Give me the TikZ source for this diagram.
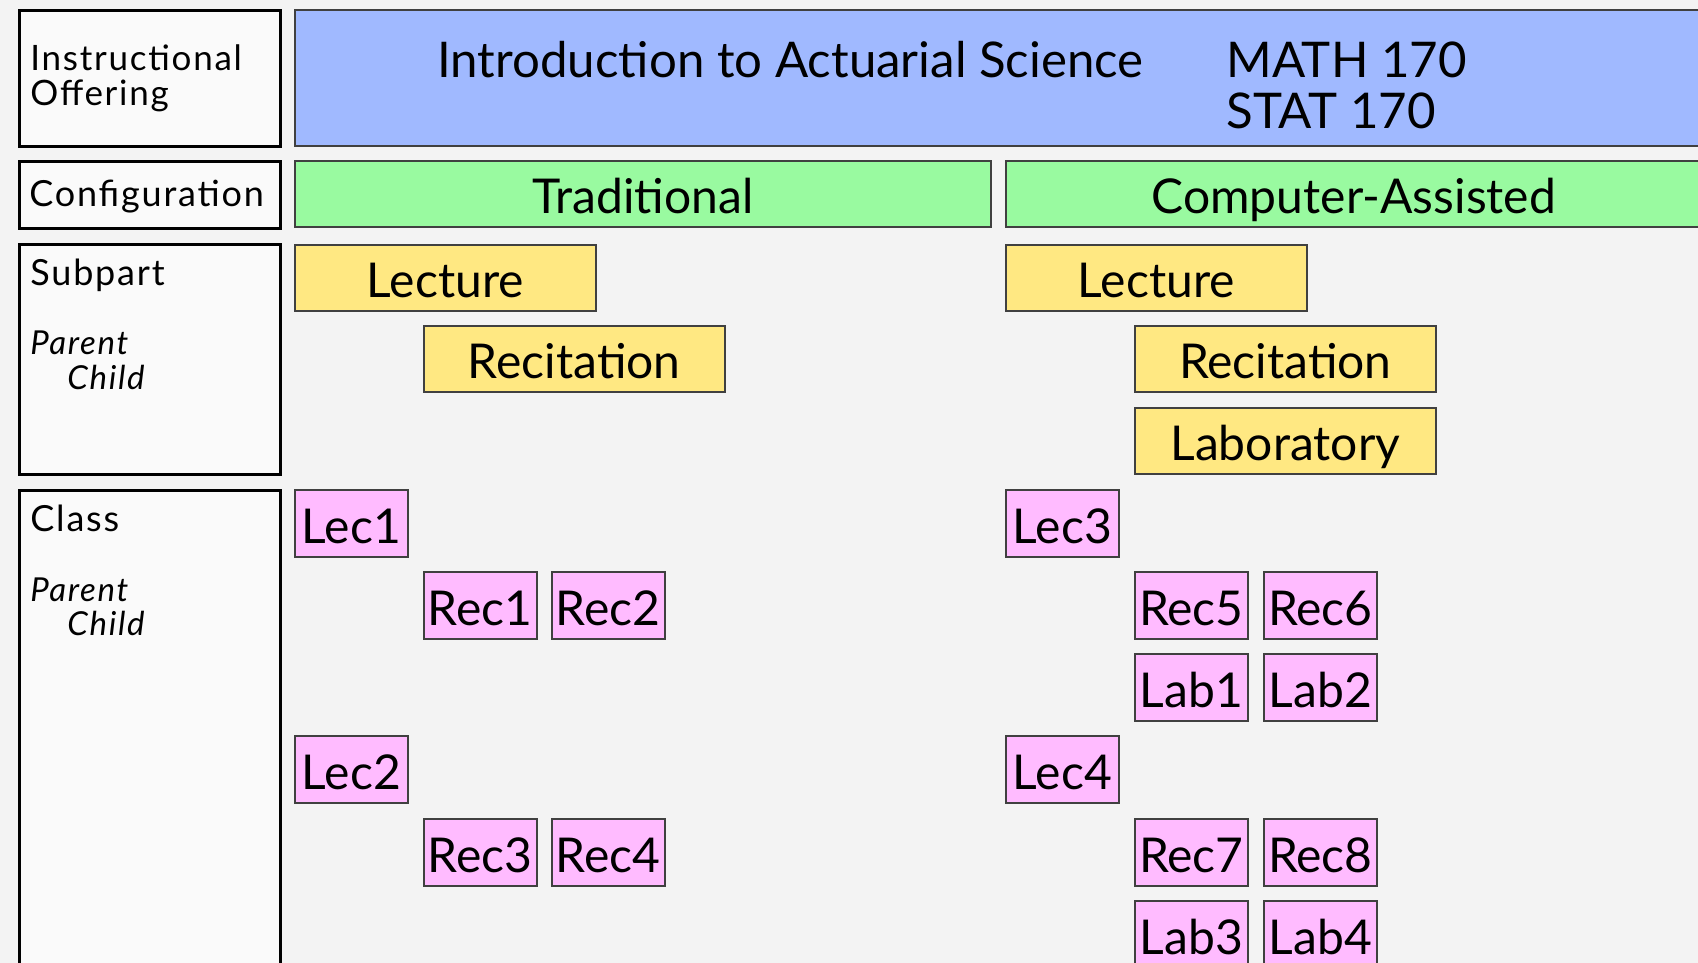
\documentclass[tikz,border=0pt]{standalone}
\usepackage{fontspec}
\setmainfont{Lato}
\newfontfamily\tagfont[LetterSpace=5]{Lato}
\usetikzlibrary{positioning}
\definecolor{bgGray}{RGB}{243,243,243}
\definecolor{offerBlue}{RGB}{160,185,255}
\definecolor{configGreen}{RGB}{153,250,160}
\definecolor{subYellow}{RGB}{255,232,130}
\definecolor{classPink}{RGB}{255,187,255}

\begin{document}
\begin{tikzpicture}[x=0.5pt, y=-0.5pt,
    tagbox/.style={draw=black, line width=1.5pt, fill=white!55!bgGray, anchor=north west,
      inner sep=0pt, minimum width=130.5pt},
    tagtext/.style={anchor=base west, inner sep=0pt, font=\tagfont\fontsize{18}{20}\selectfont},
    roletext/.style={anchor=base west, inner sep=0pt, font=\tagfont\itshape\fontsize{16.5}{18}\selectfont},
    colorbox/.style={draw=black!75, line width=0.8pt, anchor=north west, inner sep=0pt,
      text height=20pt, text depth=0pt, font=\fontsize{24}{28}\selectfont},
    offerbox/.style={colorbox, fill=offerBlue, minimum width=720pt, minimum height=68pt},
    configbox/.style={colorbox, fill=configGreen, minimum width=348pt, minimum height=33pt},
    subbox/.style={colorbox, fill=subYellow, minimum width=150.5pt, minimum height=33pt},
    classbox/.style={colorbox, fill=classPink, minimum width=56.5pt, minimum height=33.5pt},
    headtext/.style={anchor=base west, inner sep=0pt, font=\fontsize{24.6}{28}\selectfont}]
  \useasboundingbox (0,0) rectangle (1698,963);
  \clip (0,0) rectangle (1698,963);
  \fill[bgGray] (0,0) rectangle (1698,963);

  % left column of level names
  \node[tagbox, minimum height=68pt] (offerTag) at (18,9) {};
  \node[tagtext, font=\tagfont\fontsize{17.5}{19}\selectfont] (offerTxtA) at (30,71) {Instructional};
  \node[tagtext, font=\tagfont\fontsize{17.5}{19}\selectfont] (offerTxtB) at (30,105) {Offering};

  \node[tagbox, minimum height=33.5pt] (configTag) at (18,160) {};
  \node[tagtext] (configTxt) at (29,206) {Configuration};

  \node[tagbox, minimum height=115pt] (subTag) at (18,243) {};
  \node[tagtext] (subTxt) at (30,285) {Subpart};
  \node[roletext] (subParent) at (30,354) {Parent};
  \node[roletext] (subChild) at (67,389) {Child};

  \node[tagbox, minimum height=250pt] (classTag) at (18,489) {};
  \node[tagtext] (classTxt) at (30,531) {Class};
  \node[roletext] (classParent) at (30,601) {Parent};
  \node[roletext] (classChild) at (67,635) {Child};

  % instructional offering
  \node[offerbox] (offering) at (294,9) {};
  \node[headtext] (offerName) at (437,78) {Introduction to Actuarial Science};
  \node[headtext] (offerMath) at (1226,78) {MATH 170};
  \node[headtext] (offerStat) at (1226,129) {STAT 170};

  % configurations
  \node[configbox] (tradCfg) at (294,160) {Traditional};
  \node[configbox] (compCfg) at (1005,160) {Computer-Assisted};

  % subparts
  \node[subbox] (tradLec) at (294,244) {Lecture};
  \node[subbox] (tradRec) at (423,325) {Recitation};
  \node[subbox] (compLec) at (1005,244) {Lecture};
  \node[subbox] (compRec) at (1134,325) {Recitation};
  \node[subbox] (compLab) at (1134,407) {Laboratory};

  % classes, traditional
  \node[classbox] (lecA) at (294,489) {Lec1};
  \node[classbox] (recA) at (423,571) {Rec1};
  \node[classbox] (recB) at (551,571) {Rec2};
  \node[classbox] (lecB) at (294,735) {Lec2};
  \node[classbox] (recC) at (423,818) {Rec3};
  \node[classbox] (recD) at (551,818) {Rec4};

  % classes, computer-assisted
  \node[classbox] (lecC) at (1005,489) {Lec3};
  \node[classbox] (recE) at (1134,571) {Rec5};
  \node[classbox] (recF) at (1263,571) {Rec6};
  \node[classbox] (labA) at (1134,653) {Lab1};
  \node[classbox] (labB) at (1263,653) {Lab2};
  \node[classbox] (lecD) at (1005,735) {Lec4};
  \node[classbox] (recG) at (1134,818) {Rec7};
  \node[classbox] (recH) at (1263,818) {Rec8};
  \node[classbox] (labC) at (1134,900) {Lab3};
  \node[classbox] (labD) at (1263,900) {Lab4};
\end{tikzpicture}
\end{document}
